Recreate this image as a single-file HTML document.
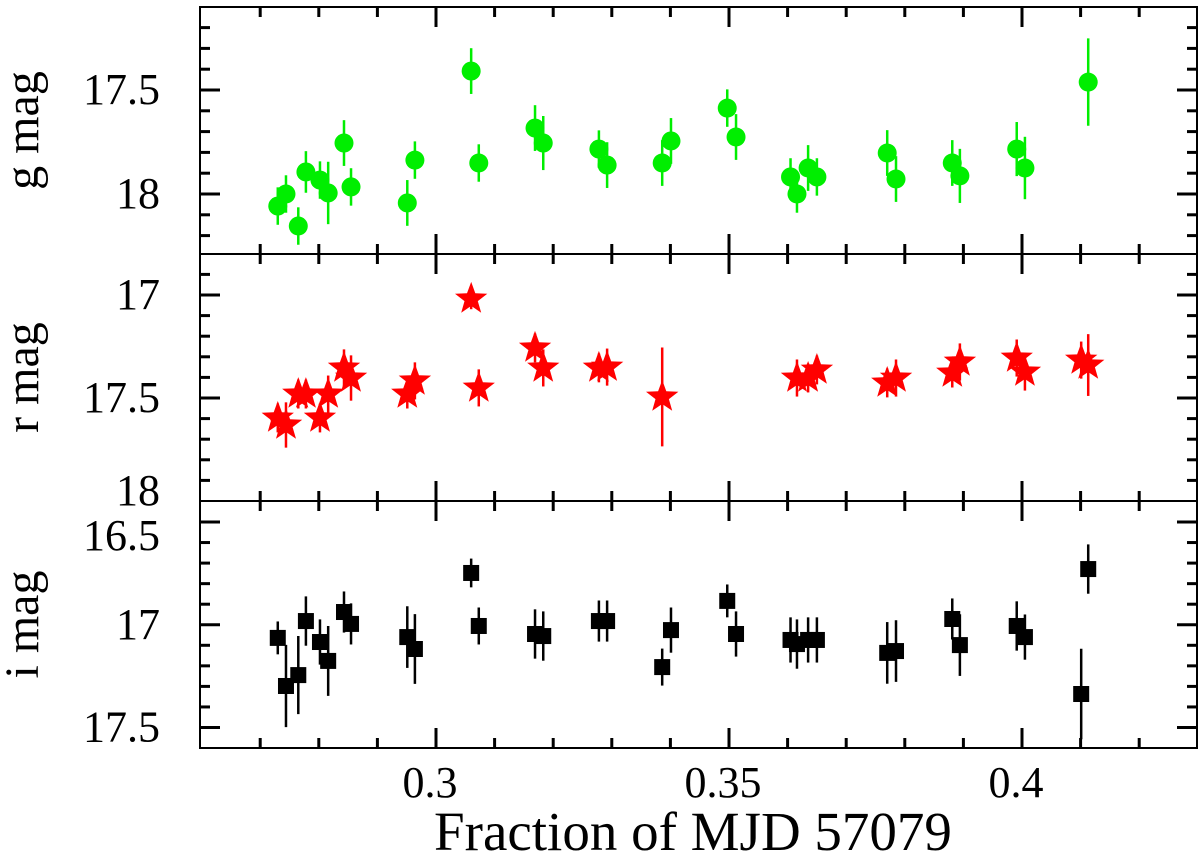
<!DOCTYPE html>
<html><head><meta charset="utf-8"><style>
html,body{margin:0;padding:0;background:#fff;}
svg{display:block;}
text{font-family:"Liberation Serif",serif;fill:#000;}
</style></head>
<body>
<svg id="chart" width="1200" height="861" viewBox="0 0 1200 861" xmlns="http://www.w3.org/2000/svg"></svg>
<script>
// ---- data ----
const gTime=[0.2730,0.2744,0.2765,0.2778,0.2802,0.2816,0.2843,0.2855,0.2951,0.2964,0.3060,0.3073,0.3169,0.3183,0.3278,0.3292,0.3386,0.3401,0.3497,0.3512,0.3605,0.3616,0.3635,0.3650,0.3770,0.3785,0.3881,0.3894,0.3991,0.4005,0.4113];
const gMag=[18.058,18.0,18.154,17.894,17.933,17.995,17.755,17.966,18.043,17.837,17.409,17.851,17.683,17.755,17.784,17.861,17.851,17.745,17.587,17.726,17.918,18.0,17.875,17.918,17.803,17.928,17.851,17.913,17.784,17.875,17.462];
const gErr=[0.09,0.09,0.09,0.1,0.09,0.15,0.11,0.09,0.11,0.09,0.11,0.09,0.11,0.13,0.09,0.11,0.11,0.11,0.09,0.11,0.09,0.09,0.11,0.09,0.11,0.11,0.11,0.13,0.13,0.15,0.21];
const rTime=[0.2730,0.2744,0.2765,0.2778,0.2802,0.2816,0.2843,0.2855,0.2951,0.2964,0.3060,0.3073,0.3169,0.3183,0.3278,0.3292,0.3386,0.3616,0.3635,0.3650,0.3770,0.3785,0.3881,0.3894,0.3991,0.4005,0.4101,0.4113];
const rMag=[17.597,17.631,17.481,17.481,17.597,17.481,17.354,17.403,17.481,17.417,17.019,17.451,17.257,17.354,17.354,17.350,17.495,17.403,17.403,17.364,17.427,17.403,17.379,17.325,17.306,17.374,17.316,17.340];
const rErr=[0.07,0.11,0.07,0.07,0.07,0.09,0.09,0.11,0.07,0.09,0.05,0.09,0.07,0.09,0.07,0.09,0.24,0.09,0.07,0.07,0.07,0.09,0.07,0.09,0.09,0.09,0.09,0.15];
const iTime=[0.2730,0.2744,0.2765,0.2778,0.2802,0.2816,0.2843,0.2855,0.2951,0.2964,0.3060,0.3073,0.3169,0.3183,0.3278,0.3292,0.3386,0.3401,0.3497,0.3512,0.3605,0.3616,0.3635,0.3650,0.3770,0.3785,0.3881,0.3894,0.3991,0.4005,0.4101,0.4113];
const iMag=[17.064,17.298,17.245,16.982,17.084,17.176,16.938,16.996,17.060,17.118,16.748,17.006,17.045,17.055,16.982,16.982,17.206,17.026,16.884,17.045,17.074,17.094,17.074,17.074,17.137,17.128,16.972,17.099,17.006,17.060,17.337,16.729];
const iErr=[0.08,0.2,0.19,0.12,0.11,0.17,0.1,0.1,0.15,0.17,0.07,0.09,0.12,0.12,0.1,0.1,0.09,0.11,0.08,0.11,0.11,0.12,0.11,0.11,0.15,0.15,0.1,0.15,0.12,0.11,0.22,0.12];
const xTicks=[0.3,0.35,0.4];
const xTickLabels=["0.3","0.35","0.4"];
const gTicks=[17.5,18]; const gTickLabels=["17.5","18"];
const rTicks=[17,17.5,18]; const rTickLabels=["17","17.5","18"];
const iTicks=[16.5,17,17.5]; const iTickLabels=["16.5","17","17.5"];

// ---- layout ----
const L=200,R=1197;
const NS="http://www.w3.org/2000/svg";
const svg=document.getElementById('chart');
function el(tag,attrs,parent){const e=document.createElementNS(NS,tag);for(const k in attrs)e.setAttribute(k,attrs[k]);(parent||svg).appendChild(e);return e;}
const xScale=t=>436+(t-0.3)*5860;
const panels=[
 {name:'g',top:7,bot:254,y0:17.5,p0:90,ppm:208,min:17.2,max:18.2,ticks:gTicks,labels:gTickLabels,title:'g mag',t:gTime,m:gMag,e:gErr,color:'#00ee00',marker:'circle'},
 {name:'r',top:254,bot:501,y0:17,p0:295,ppm:206,min:16.9,max:17.9,ticks:rTicks,labels:rTickLabels,title:'r mag',t:rTime,m:rMag,e:rErr,color:'#ff0000',marker:'star'},
 {name:'i',top:501,bot:748,y0:16.5,p0:522,ppm:205.5,min:16.5,max:17.6,ticks:iTicks,labels:iTickLabels,title:'i mag',t:iTime,m:iMag,e:iErr,color:'#000000',marker:'square'}
];
panels.forEach(p=>{
 const ys=m=>p.p0+(m-p.y0)*p.ppm;
 const g=el('g',{});
 
 
 const fr=el('rect',{x:L,y:p.top,width:R-L,height:p.bot-p.top,fill:'none',stroke:'#000','stroke-width':2},g);
 
 
 for(let k=Math.round(p.min*10);k<=Math.round(p.max*10);k++){
  const m=k/10; const y=ys(m); if(y<p.top+2||y>p.bot-2)continue;
  const major=p.ticks.some(v=>Math.abs(v-m)<1e-6); const len=major?20:10;
  el('line',{x1:L,x2:L+len,y1:y,y2:y,stroke:'#000','stroke-width':3},g);
  el('line',{x1:R-len,x2:R,y1:y,y2:y,stroke:'#000','stroke-width':3},g);
 }
 p.ticks.forEach((v,i)=>{
  const ty=ys(v);
  let off=14;
  if(ty-p.top<25) off=28;
  if(p.bot-ty<8) off=4;
  const t=el('text',{x:160,y:ty+off,'font-size':44,'text-anchor':'end'},g);
  t.textContent=p.labels[i];
  
  
 });
 for(let k=27;k<=42;k++){
  const tv=k/100; const x=xScale(tv); if(x<L+2||x>R-2)continue;
  const major=xTicks.some(v=>Math.abs(v-tv)<1e-6); const len=major?20:10;
  el('line',{x1:x,x2:x,y1:p.top,y2:p.top+len,stroke:'#000','stroke-width':3},g);
  el('line',{x1:x,x2:x,y1:p.bot-len,y2:p.bot,stroke:'#000','stroke-width':3},g);
 }
 const yt=el('text',{x:0,y:0,'font-size':48,'text-anchor':'middle',transform:`translate(38,${(p.top+p.bot)/2}) rotate(-90)`},g);
 yt.textContent=p.title;
 
 
 p.t.forEach((tv,i)=>{
  const x=xScale(tv),y=ys(p.m[i]),e=p.e[i]*p.ppm;
  const eb=el('line',{x1:x,x2:x,y1:y-e,y2:y+e,stroke:p.color,'stroke-width':2.5},g);
  
  
  let mk;
  if(p.marker==='circle') mk=el('circle',{cx:x,cy:y,r:9.5,fill:p.color},g);
  else if(p.marker==='square') mk=el('rect',{x:x-8,y:y-8,width:16,height:16,fill:p.color},g);
  else {
   let pts=[];
   for(let j=0;j<10;j++){const a=-Math.PI/2+j*Math.PI/5;const rr=j%2?7:17;pts.push((x+rr*Math.cos(a)).toFixed(1)+','+(y+rr*Math.sin(a)).toFixed(1));}
   mk=el('polygon',{points:pts.join(' '),fill:p.color},g);
  }
  
  
 });
});
xTicks.forEach((v,i)=>{
 const t=el('text',{x:xScale(v)-6,y:797,'font-size':44,'text-anchor':'middle'});
 t.textContent=xTickLabels[i];
 
 
});
const xt=el('text',{x:693,y:850,'font-size':55,'text-anchor':'middle'});
xt.textContent='Fraction of MJD 57079';


</script>
</body></html>
